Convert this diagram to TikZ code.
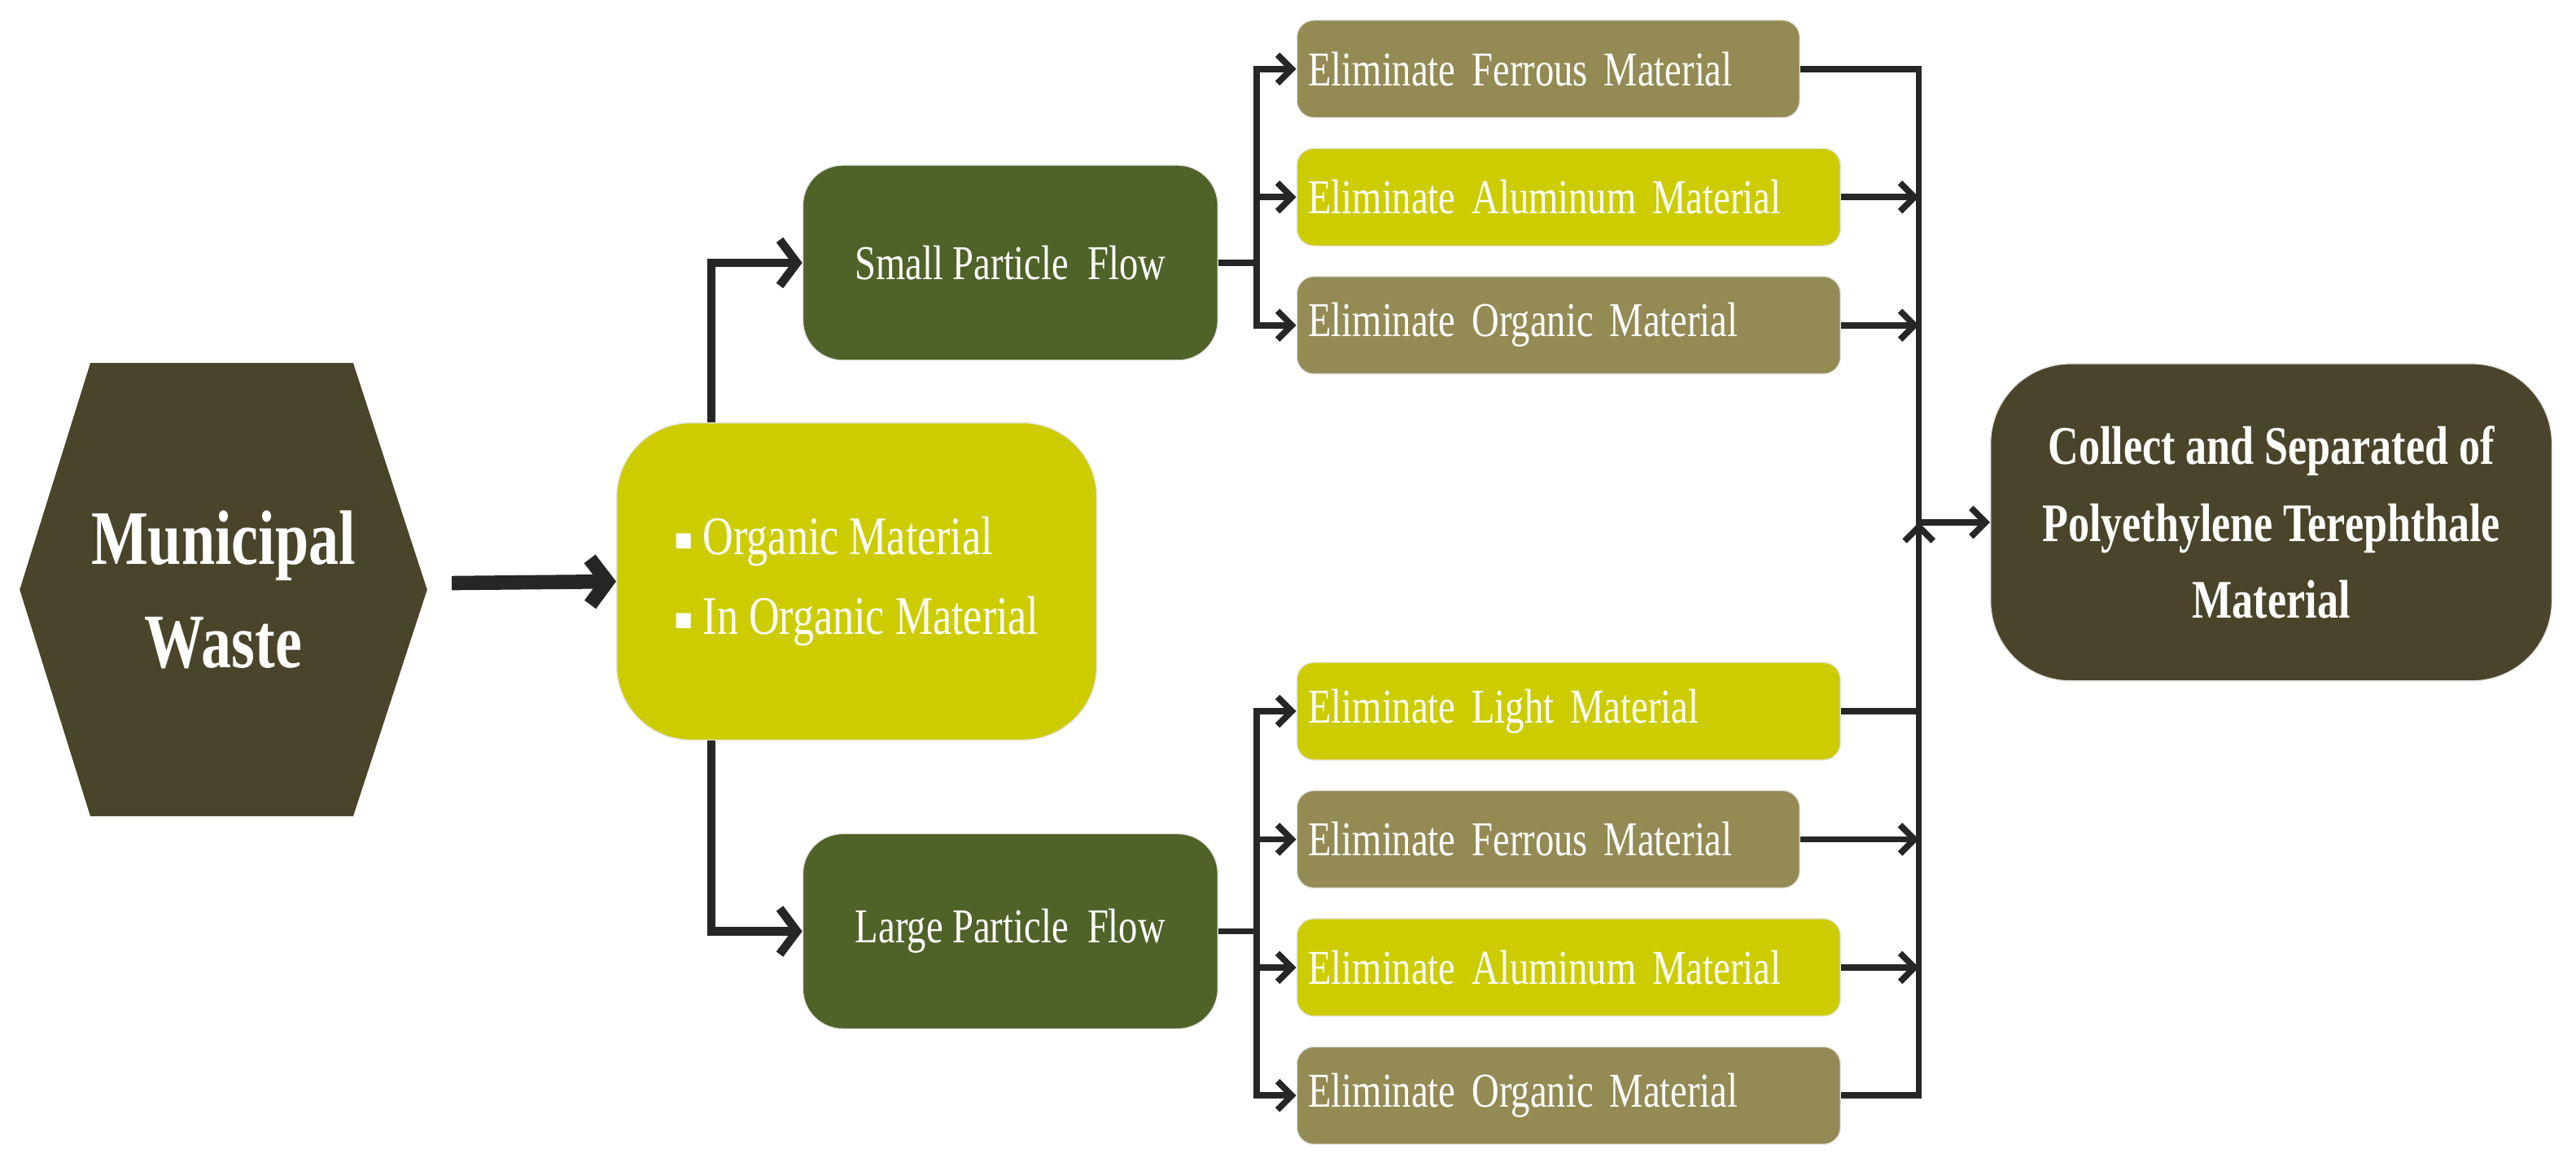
\documentclass[tikz,border=0pt]{standalone}
\usepackage{amssymb}
\usepackage{fontspec}
\setmainfont{Liberation Serif}[FakeStretch=0.78]
\usetikzlibrary{arrows.meta,shapes.geometric,positioning,calc}
\definecolor{hexdark}{HTML}{4A442A}
\definecolor{lime}{HTML}{CCCC00}
\definecolor{olive}{HTML}{4F6228}
\definecolor{khaki}{HTML}{948A54}
\tikzset{
  box/.style={rectangle, rounded corners=6pt, draw=white!80!gray, text=white, font=\fontsize{17}{20}\selectfont, minimum height=1.2cm, inner sep=4pt},
  elim/.style={box, anchor=west, align=left, text width=#1, minimum height=1.2cm},
  flow/.style={box, fill=olive, rounded corners=14pt, minimum width=5.1cm, minimum height=2.4cm},
  thin/.style={line width=2.2pt, draw=black!85, -{Straight Barb[length=5pt,width=10pt]}},
  fat/.style={line width=5pt, draw=black!85, -{Straight Barb[length=6pt,width=16pt]}}
}
\begin{document}
\begin{tikzpicture}[x=0.02019cm,y=-0.02019cm]
\useasboundingbox (0,0) rectangle (1568,707);
% left part
\fill[hexdark] (12,359)--(55,221)--(215,221)--(260,359)--(215,497)--(55,497)--cycle;
\node[text=white, font=\bfseries\fontsize{27}{36}\selectfont, align=center] (mw) at (136,359) {Municipal\\Waste};
\coordinate (mwe) at (275,355);
\node[box, fill=lime, rounded corners=26pt, minimum width=5.9cm, minimum height=3.9cm, align=left, font=\fontsize{19}{28}\selectfont] (mix) at (521.5,354) {\raisebox{2pt}{\scriptsize$\blacksquare$} Organic Material\\\raisebox{2pt}{\scriptsize$\blacksquare$} In Organic Material};
\draw[fat] (mwe) -- (mix.west);
\node[flow] (small) at (615,160) {Small Particle\ \ Flow};
\node[flow] (large) at (615,567) {Large Particle\ \ Flow};
\draw[fat, line width=3pt] (433,257) |- (small.west);
\draw[fat, line width=3pt] (433,451) |- (large.west);
% eliminate boxes
\node[elim=5.9cm, fill=khaki] (sf) at (789,42) {Eliminate Ferrous Material};
\node[elim=6.4cm, fill=lime] (sa) at (789,120) {Eliminate Aluminum Material};
\node[elim=6.4cm, fill=khaki] (so) at (789,198) {Eliminate Organic Material};
\node[elim=6.4cm, fill=lime] (ll) at (789,433) {Eliminate Light Material};
\node[elim=5.9cm, fill=khaki] (lf) at (789,511) {Eliminate Ferrous Material};
\node[elim=6.4cm, fill=lime] (la) at (789,589) {Eliminate Aluminum Material};
\node[elim=6.4cm, fill=khaki] (lo) at (789,667) {Eliminate Organic Material};
\node[box, fill=hexdark, rounded corners=28pt, minimum width=6.9cm, minimum height=3.9cm, align=center, font=\bfseries\fontsize{19}{27}\selectfont] (pet) at (1382.5,318) {Collect and Separated of\\Polyethylene Terephthale\\Material};
% branches
\coordinate (sb) at (765,160);
\coordinate (lb) at (765,567);
\draw[line width=2.2pt, black!85] (small.east) -- (sb);
\draw[line width=2.2pt, black!85] (large.east) -- (lb);
\foreach \n in {sf,sa,so} \draw[thin] (sb) |- (\n.west);
\foreach \n in {ll,lf,la,lo} \draw[thin] (lb) |- (\n.west);
% collector
\coordinate (ct) at (1168,42);
\coordinate (cb) at (1168,667);
\coordinate (cm) at (1168,318);
\draw[line width=2.2pt, black!85] (sf.east) -- (ct) -- (cb) -- (lo.east);
\draw[line width=2.2pt, black!85] (ll.east) -- (ll.east -| cm);
\foreach \n in {sa,so,lf,la} \draw[thin] (\n.east) -- (\n.east -| cm);
\draw[thin] ($(cm)+(0,30)$) -- (cm);
\draw[thin] (cm) -- (pet.west);
\end{tikzpicture}
\end{document}
